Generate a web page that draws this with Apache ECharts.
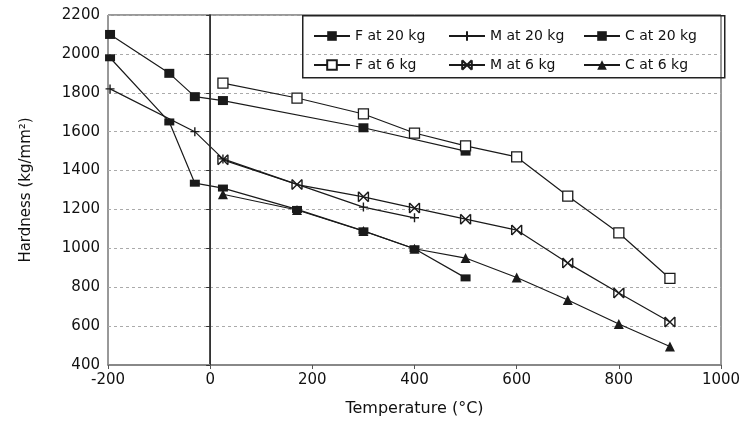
<!DOCTYPE html>
<html>
<head>
<meta charset="utf-8">
<script src="https://cdn.jsdelivr.net/npm/echarts@6/dist/echarts.min.js"></script>
<style>
  html, body { margin: 0; padding: 0; background: #fff; }
  #main { width: 748px; height: 422px; }
</style>
</head>
<body>
<div id="main"></div>
<script>
// 數據（溫度 °C / 硬度 kg/mm²）
const fTemp20 = [-196, -80, -30, 25, 300, 500];
const fHard20 = [2100, 1900, 1780, 1760, 1620, 1500];
const mTemp20 = [-196, -30, 25, 300, 400];
const mHard20 = [1820, 1600, 1460, 1212, 1157];
const cTemp20 = [-196, -80, -30, 25, 170, 300, 400, 500];
const cHard20 = [1980, 1650, 1335, 1310, 1200, 1090, 998, 848];
const fTemp6 = [25, 170, 300, 400, 500, 600, 700, 800, 900];
const fHard6 = [1850, 1773, 1691, 1593, 1527, 1470, 1269, 1079, 845];
const mTemp6 = [25, 170, 300, 400, 500, 600, 700, 800, 900];
const mHard6 = [1455, 1328, 1265, 1207, 1150, 1094, 924, 770, 621];
const cTemp6 = [25, 170, 300, 400, 500, 600, 700, 800, 900];
const cHard6 = [1278, 1197, 1089, 998, 950, 850, 734, 611, 495];
const xTicks = [-200, 0, 200, 400, 600, 800, 1000];
const yTicks = [400, 600, 800, 1000, 1200, 1400, 1600, 1800, 2000, 2200];

const FONT = "DejaVu Sans";
const INK = "#1a1a1a";

function pairs(xs, ys) {
  return xs.map((x, i) => [x, ys[i]]);
}

function lineSeries(name, xs, ys, symbol, size, itemStyle) {
  return {
    name: name,
    type: "line",
    data: pairs(xs, ys),
    symbol: symbol,
    symbolSize: size,
    showAllSymbol: true,
    lineStyle: { color: INK, width: 1.2 },
    itemStyle: itemStyle,
    emphasis: { disabled: true },
    z: 3
  };
}

const plusPath = "path://M5,0L5,10M0,5L10,5";
const bowPath = "path://M0,0L10,10M0,10L10,0M0,0L0,10M10,0L10,10";

const series = [
  lineSeries("F at 20 kg", fTemp20, fHard20, "rect", [10, 9], { color: INK }),
  lineSeries("M at 20 kg", mTemp20, mHard20, plusPath, 9, { color: INK, borderColor: INK, borderWidth: 1.4 }),
  lineSeries("C at 20 kg", cTemp20, cHard20, "rect", [10, 7], { color: INK }),
  lineSeries("F at 6 kg", fTemp6, fHard6, "rect", 10, { color: "#fff", borderColor: INK, borderWidth: 1.3 }),
  lineSeries("M at 6 kg", mTemp6, mHard6, bowPath, 10, { color: INK, borderColor: INK, borderWidth: 1.4 }),
  lineSeries("C at 6 kg", cTemp6, cHard6, "triangle", 10, { color: INK })
];

// 0°C 參考線
series[0].markLine = {
  silent: true,
  symbol: "none",
  label: { show: false },
  lineStyle: { color: "#333", width: 1, type: "solid" },
  data: [{ xAxis: 0 }]
};

const legendBase = {
  orient: "vertical",
  top: 24,
  itemWidth: 36,
  itemHeight: 12,
  itemGap: 15,
  selectedMode: false,
  textStyle: { fontFamily: FONT, fontSize: 14, color: "#111" }
};

const option = {
  animation: false,
  backgroundColor: "#fff",
  grid: {
    left: 108, right: 27, top: 15, bottom: 57,
    show: true, borderColor: "#333", borderWidth: 1
  },
  legend: [
    Object.assign({}, legendBase, { left: 308, data: [series[0].name, series[3].name] }),
    Object.assign({}, legendBase, { left: 443, data: [series[1].name, series[4].name] }),
    Object.assign({}, legendBase, { left: 578, data: [series[2].name, series[5].name] })
  ],
  graphic: [{
    type: "rect",
    left: 302, top: 15,
    shape: { width: 422, height: 62 },
    style: { fill: "rgba(0,0,0,0)", stroke: "#222", lineWidth: 1.5 },
    z: 10
  }],
  xAxis: {
    type: "value",
    min: xTicks[0],
    max: xTicks[xTicks.length - 1],
    interval: 200,
    name: "Temperature (°C)",
    nameLocation: "middle",
    nameGap: 36,
    nameTextStyle: { fontFamily: FONT, fontSize: 16, color: "#111" },
    axisLine: { show: true, lineStyle: { color: "#888", width: 2 } },
    axisTick: { show: true, length: 4, lineStyle: { color: "#555" } },
    axisLabel: { fontFamily: FONT, fontSize: 15, color: "#111", margin: 8, formatter: (v) => String(v) },
    splitLine: { show: false }
  },
  yAxis: {
    type: "value",
    min: yTicks[0],
    max: yTicks[yTicks.length - 1],
    interval: 200,
    name: "Hardness (kg/mm²)",
    nameLocation: "middle",
    nameGap: 74,
    nameTextStyle: { fontFamily: FONT, fontSize: 15, color: "#111" },
    axisLine: { show: true, lineStyle: { color: "#111", width: 1.5 } },
    axisTick: { show: true, length: 4, lineStyle: { color: "#333" } },
    axisLabel: { fontFamily: FONT, fontSize: 15, color: "#111", margin: 8, formatter: (v) => String(v) },
    splitLine: { show: true, lineStyle: { color: "#aaa", type: [3, 3], width: 1 } }
  },
  series: series
};

const chart = echarts.init(document.getElementById("main"));
chart.setOption(option);
</script>
</body>
</html>
